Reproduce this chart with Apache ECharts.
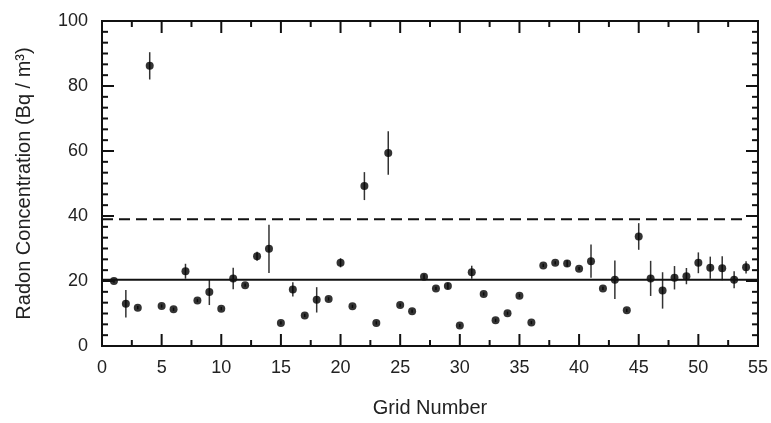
<!DOCTYPE html>
<html>
<head>
<meta charset="utf-8">
<script src="https://cdn.jsdelivr.net/npm/echarts@6/dist/echarts.min.js"></script>
<style>html,body{margin:0;padding:0;background:#fff;}#c{width:771px;height:423px;}</style>
</head>
<body>
<div id="c"></div>
<script>
const gridNumbers = [1,2,3,4,5,6,7,8,9,10,11,12,13,14,15,16,17,18,19,20,21,22,23,24,25,26,27,28,29,30,31,32,33,34,35,36,37,38,39,40,41,42,43,44,45,46,47,48,49,50,51,52,53,54];
const radon = [20.0,13.0,11.8,86.2,12.3,11.3,23.0,14.0,16.6,11.5,20.8,18.7,27.6,29.9,7.1,17.4,9.4,14.2,14.5,25.6,12.2,49.2,7.1,59.4,12.6,10.7,21.3,17.7,18.5,6.3,22.7,16.0,7.9,10.1,15.5,7.2,24.8,25.6,25.4,23.8,26.1,17.7,20.4,11.0,33.7,20.8,17.1,21.0,21.5,25.6,24.1,23.9,20.4,24.2];
const radonErr = [0.5,4.2,0.5,4.2,0.5,0.5,2.3,0.5,4.0,0.5,3.3,0.5,1.4,7.4,0.5,2.2,0.5,3.9,0.5,1.4,0.5,4.3,0.5,6.7,0.5,0.5,0.8,0.5,1.0,0.5,2.0,0.5,0.5,0.5,0.5,0.5,0.5,0.5,1.0,0.5,5.1,0.5,5.9,0.5,4.1,5.4,5.6,3.6,2.5,3.2,3.4,3.7,2.6,1.9];
const meanLevel = 20.4;
const meanRange = [0, 55];
const limitLevel = 39;
const limitRange = [0, 54];
const xTicks = [0,5,10,15,20,25,30,35,40,45,50,55];
const yTicks = [0,20,40,60,80,100];
const xMinorPerMajor = 2;
const yMinorPerMajor = 6;

const FONT = "'Liberation Sans', Arial, sans-serif";
const chart = echarts.init(document.getElementById('c'));

const X_MIN = xTicks[0], X_MAX = xTicks[xTicks.length-1];
const Y_MIN = yTicks[0], Y_MAX = yTicks[yTicks.length-1];

const pts = gridNumbers.map((g,i)=>[g, radon[i]]);
const errData = gridNumbers.map((g,i)=>[g, radon[i]-radonErr[i], radon[i]+radonErr[i]]);

// tick rows: [axis (0 = x, 1 = y, 2 = frame), value, major flag]
const tickRows = [[2, 0, 0]];
function addTicks(axisId, ticks, nMinor){
  for (let i = 0; i < ticks.length; i++){
    tickRows.push([axisId, ticks[i], 1]);
    if (i < ticks.length - 1){
      const step = (ticks[i+1] - ticks[i]) / nMinor;
      for (let k = 1; k < nMinor; k++) tickRows.push([axisId, ticks[i] + k*step, 0]);
    }
  }
}
addTicks(0, xTicks, xMinorPerMajor);
addTicks(1, yTicks, yMinorPerMajor);

const MAJOR_LEN = 12, MINOR_LEN = 6, TICK_W = 2, AX_COLOR = '#111';

chart.setOption({
  animation:false,
  grid:{left:102, right:13, top:21, bottom:76},
  xAxis:{
    type:'value', min:X_MIN, max:X_MAX, interval:5,
    name:'Grid Number', nameLocation:'middle', nameGap:52,
    nameTextStyle:{fontFamily:FONT, fontSize:20, color:'#222'},
    axisLine:{show:true, onZero:false, lineStyle:{color:AX_COLOR, width:2}},
    axisTick:{show:false},
    axisLabel:{fontFamily:FONT, fontSize:18, color:'#222', margin:13},
    splitLine:{show:false}
  },
  yAxis:{
    type:'value', min:Y_MIN, max:Y_MAX, interval:20,
    name:'Radon Concentration (Bq / m³)', nameLocation:'middle', nameGap:68,
    nameTextStyle:{fontFamily:FONT, fontSize:20, color:'#222'},
    axisLine:{show:true, onZero:false, lineStyle:{color:AX_COLOR, width:2}},
    axisTick:{show:false},
    axisLabel:{fontFamily:FONT, fontSize:18, color:'#222', margin:14},
    splitLine:{show:false}
  },
  series:[
    {
      type:'line', data:[[meanRange[0],meanLevel],[meanRange[1],meanLevel]],
      symbol:'none', lineStyle:{color:'#111', width:2}, silent:true
    },
    {
      type:'line', data:[[limitRange[0],limitLevel],[limitRange[1],limitLevel]],
      symbol:'none', lineStyle:{color:'#111', width:2, type:[11,6]}, silent:true
    },
    {
      type:'custom', data:errData, silent:true,
      renderItem:function(params, api){
        const x = api.value(0);
        const lo = api.coord([x, api.value(1)]);
        const hi = api.coord([x, api.value(2)]);
        return {type:'line', shape:{x1:lo[0], y1:lo[1], x2:hi[0], y2:hi[1]},
          style:{stroke:'#333', fill:'none', lineWidth:1.5}};
      }
    },
    {
      type:'scatter', data:pts, symbol:'circle', symbolSize:8,
      itemStyle:{color:'#000'}
    },
    {
      type:'custom', data:tickRows, clip:false, silent:true, z:10,
      encode:{x:-1, y:-1},
      renderItem:function(params, api){
        const kind = api.value(0), v = api.value(1), major = api.value(2);
        const len = major ? MAJOR_LEN : MINOR_LEN;
        const st = {stroke:AX_COLOR, fill:'none', lineWidth:TICK_W};
        if (kind === 2){
          const a = api.coord([X_MIN, Y_MAX]);
          const b = api.coord([X_MAX, Y_MIN]);
          return {type:'rect', shape:{x:a[0], y:a[1], width:b[0]-a[0], height:b[1]-a[1]},
            style:{stroke:AX_COLOR, fill:'none', lineWidth:2}};
        }
        if (kind === 0){
          const b = api.coord([v, Y_MIN]);
          const t = api.coord([v, Y_MAX]);
          return {type:'group', children:[
            {type:'line', shape:{x1:b[0], y1:b[1], x2:b[0], y2:b[1]-len}, style:st},
            {type:'line', shape:{x1:t[0], y1:t[1], x2:t[0], y2:t[1]+len}, style:st}
          ]};
        }
        const l = api.coord([X_MIN, v]);
        const r = api.coord([X_MAX, v]);
        return {type:'group', children:[
          {type:'line', shape:{x1:l[0], y1:l[1], x2:l[0]+len, y2:l[1]}, style:st},
          {type:'line', shape:{x1:r[0], y1:r[1], x2:r[0]-len, y2:r[1]}, style:st}
        ]};
      }
    }
  ]
});
</script>
</body>
</html>
